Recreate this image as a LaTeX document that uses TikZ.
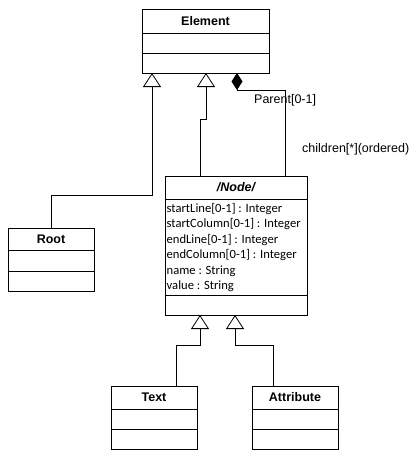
\documentclass[tikz,border=0pt]{standalone}
\usepackage{fontspec}
\setmainfont{Liberation Sans}
\newfontfamily\attrfont{Carlito}
\usetikzlibrary{arrows.meta,calc}

\tikzset{
  hdr/.style={draw, line width=0.9pt, inner sep=0pt, outer sep=0pt, anchor=north west,
              font=\fontsize{12.5pt}{14pt}\selectfont\bfseries},
  cmp/.style={draw, line width=0.9pt, inner sep=0pt, outer sep=0pt, anchor=north},
  attrs/.style={inner sep=0pt, anchor=west, align=left,
                font=\attrfont\fontsize{12.6pt}{15.4pt}\selectfont},
  lbl/.style={inner sep=0pt, anchor=west, font=\fontsize{12.5pt}{14pt}\selectfont},
  gen/.style={line width=0.8pt, -{Triangle[open, length=14pt, width=18pt]}},
  compo/.style={line width=0.8pt, {Diamond[length=17pt, width=11pt]}-},
}

\begin{document}
\begin{tikzpicture}[x=1pt, y=-1pt]
\useasboundingbox (0,0) rectangle (411,450);

% Element
\node[hdr, minimum width=127pt, minimum height=24pt] (element) at (142,9) {Element};
\node[cmp, minimum width=127pt, minimum height=20pt] (elementA) at (element.south) {};
\node[cmp, minimum width=127pt, minimum height=20pt] (elementO) at (elementA.south) {};

% Root
\node[hdr, minimum width=86pt, minimum height=22pt] (root) at (8,228) {Root};
\node[cmp, minimum width=86pt, minimum height=21pt] (rootA) at (root.south) {};
\node[cmp, minimum width=86pt, minimum height=20pt] (rootO) at (rootA.south) {};

% Node
\node[hdr, minimum width=142pt, minimum height=23pt] (node) at (165,176) {\itshape /Node/};
\node[cmp, minimum width=142pt, minimum height=96pt] (nodeA) at (node.south) {};
\node[attrs] (nodeAttrs) at ($(nodeA.west)+(1.5,0.5)$)
  {startLine[0-1] : Integer\\startColumn[0-1] : Integer\\endLine[0-1] : Integer\\
   endColumn[0-1] : Integer\\name : String\\value : String};
\node[cmp, minimum width=142pt, minimum height=20pt] (nodeO) at (nodeA.south) {};

% Text
\node[hdr, minimum width=86pt, minimum height=23pt] (text) at (111,386) {Text};
\node[cmp, minimum width=86pt, minimum height=20pt] (textA) at (text.south) {};
\node[cmp, minimum width=86pt, minimum height=20pt] (textO) at (textA.south) {};

% Attribute
\node[hdr, minimum width=86pt, minimum height=23pt] (attr) at (252,386) {Attribute};
\node[cmp, minimum width=86pt, minimum height=20pt] (attrA) at (attr.south) {};
\node[cmp, minimum width=86pt, minimum height=20pt] (attrO) at (attrA.south) {};

% attachment points
\coordinate (gR) at ($(elementO.south west)+(10,0)$);
\coordinate (gN) at ($(elementO.south west)+(64,0)$);
\coordinate (dC) at ($(elementO.south west)+(95,0)$);
\coordinate (nA) at ($(node.north west)+(35,0)$);
\coordinate (nC) at ($(node.north west)+(120,0)$);
\coordinate (gT) at ($(nodeO.south west)+(35,0)$);
\coordinate (gAt) at ($(nodeO.south west)+(70,0)$);
\coordinate (tA) at ($(text.north west)+(65,0)$);
\coordinate (aA) at ($(attr.north west)+(21,0)$);

% generalizations
\draw[gen] (root.north) |- ($(gR)+(0,122)$) -- (gR);
\draw[gen] (nA) |- ($(gN)+(0,46)$) -- (gN);
\draw[gen] (tA) |- ($(gT)+(0,30)$) -- (gT);
\draw[gen] (aA) |- ($(gAt)+(0,30)$) -- (gAt);

% composition
\draw[compo] (dC) -- ($(dC)+(0,17)$) -| (nC);

% role labels
\node[lbl] (lp) at (254,100) {Parent[0-1]};
\node[lbl] (lc) at (302,149) {children[*](ordered)};
\end{tikzpicture}
\end{document}
